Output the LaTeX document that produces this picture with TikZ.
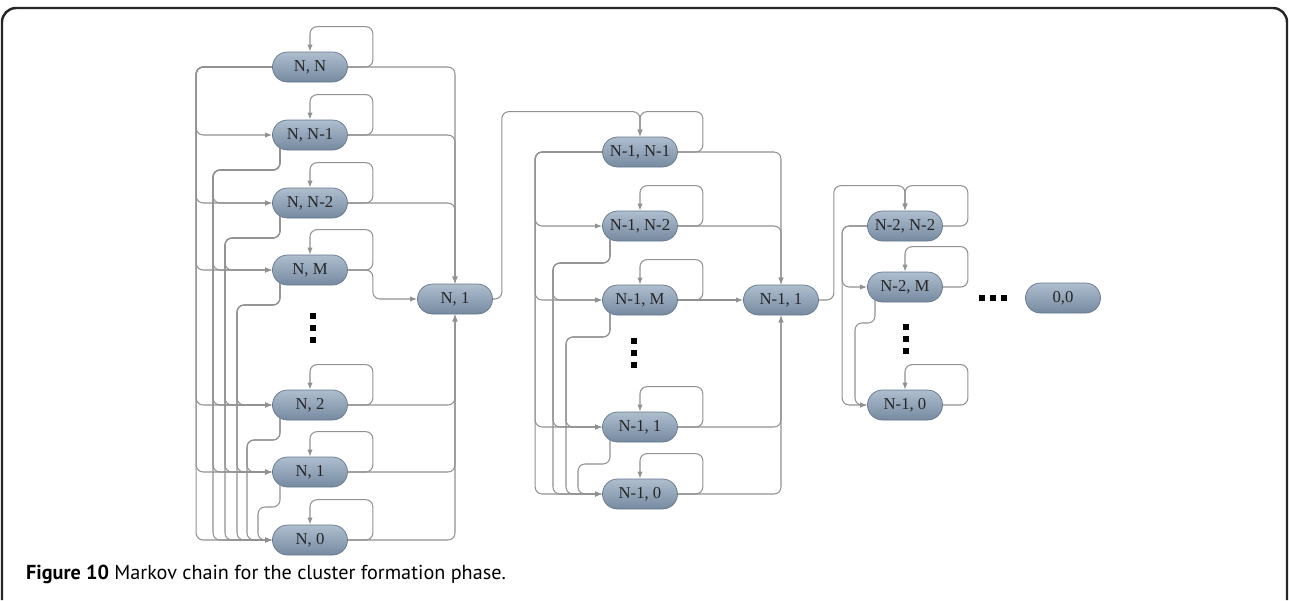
\documentclass[tikz,border=0pt]{standalone}
\usepackage{fontspec}
\setmainfont{Liberation Serif}
\newfontfamily\captionfont{PT Sans}
\usetikzlibrary{arrows.meta}
\definecolor{state-top}{RGB}{174,190,207}
\definecolor{state-bottom}{RGB}{118,138,160}
\definecolor{state-rim}{RGB}{100,118,138}
\definecolor{link-gray}{RGB}{145,145,145}

\begin{document}
\begin{tikzpicture}[x=0.02cm, y=-0.02cm]
	\tikzset{state/.style={rectangle, draw=state-rim, top color=state-top, bottom color=state-bottom, rounded corners=0.3cm, minimum width=1.5cm, minimum height=0.6cm, inner sep=1pt, font=\fontsize{9.5}{10}\selectfont, text=black!85}}
	\tikzset{arr/.style={-{Latex[length=4pt, width=3pt]}, draw=link-gray, line width=0.6pt, rounded corners=4pt}}
	\tikzset{dot/.style={fill=black}}
	
	\useasboundingbox (0,0) rectangle (1289,600);
	\draw[line width=1.4pt, black!85, rounded corners=8pt] (2,600) -- (2,8) -- (1287,8) -- (1287,600);
	
	\node[state] (n1) at (310,67) {N, N};
	\node[state] (n2) at (310,135) {N, N-1};
	\node[state] (n3) at (310,203) {N, N-2};
	\node[state] (n4) at (310,270) {N, M};
	\node[state] (n5) at (310,405) {N, 2};
	\node[state] (n6) at (310,472) {N, 1};
	\node[state] (n7) at (310,540) {N, 0};
	\node[state] (hubN) at (455,299) {N, 1};
	
	\node[state] (m1) at (640,152) {N-1, N-1};
	\node[state] (m2) at (640,226) {N-1, N-2};
	\node[state] (m3) at (640,300) {N-1, M};
	\node[state] (m4) at (640,427) {N-1, 1};
	\node[state] (m5) at (640,494) {N-1, 0};
	\node[state] (hubM) at (781,300) {N-1, 1};
	
	\node[state] (k1) at (905,226) {N-2, N-2};
	\node[state] (k2) at (905,287) {N-2, M};
	\node[state] (k3) at (905,405) {N-1, 0};
	\node[state] (zero) at (1063,298) {0,0};
	
	\foreach \s in {n1,n2,n3,n4,n5,n6,n7,m1,m2,m3,m4,m5,k1,k2,k3}
		\draw[arr] (\s.east) -- ++(25,0) |- ([shift={(0,-25)}]\s.north) -- (\s.north);
	
	\foreach \s in {n1,n2,n3}
		\draw[arr] (\s.east) -| (hubN.north);
	\draw[arr] (n4.east) -- ++(25,0) |- (hubN.west);
	\foreach \s in {n5,n6,n7}
		\draw[arr] (\s.east) -| (hubN.south);
	
	\foreach \s in {m1,m2}
		\draw[arr] (\s.east) -| (hubM.north);
	\draw[arr] (m3) -- (hubM);
	\foreach \s in {m4,m5}
		\draw[arr] (\s.east) -| (hubM.south);
	
	\draw[arr] (hubN.east) -- ++(9,0) |- ([shift={(0,-25)}]m1.north) -- (m1.north);
	\draw[arr] (hubM.east) -- ++(15,0) |- ([shift={(0,-25)}]k1.north) -- (k1.north);
	
	\foreach \t in {2,...,7}
		\draw[arr] (n1.west) -- ++(-76,0) |- (n\t.west);
	\foreach \s/\d [evaluate=\s as \u using int(\s+1)] in {2/67,3/55,4/43,5/33,6/22}
		\foreach \t in {\u,...,7}
			\draw[arr] ([shift={(-30,13)}]n\s.center) |- ++(-\d,22) |- (n\t.west);
	
	\foreach \t in {2,...,5}
		\draw[arr] (m1.west) -- ++(-67,0) |- (m\t.west);
	\foreach \s/\d [evaluate=\s as \u using int(\s+1)] in {2/57,3/44,4/32}
		\foreach \t in {\u,...,5}
			\draw[arr] ([shift={(-30,13)}]m\s.center) |- ++(-\d,24) |- (m\t.west);
	
	\foreach \t in {2,3}
		\draw[arr] (k1.west) -- ++(-25,0) |- (k\t.west);
	\draw[arr] ([shift={(-30,13)}]k2.center) |- ++(-20,23) |- (k3.west);
	
	\foreach \y in {316,328,340}
		\fill[dot] (313,\y) +(-3,-3) rectangle +(3,3);
	\foreach \y in {341,353,365}
		\fill[dot] (634,\y) +(-3,-3) rectangle +(3,3);
	\foreach \y in {327,339,351}
		\fill[dot] (906,\y) +(-3,-3) rectangle +(3,3);
	\foreach \x in {982,993,1004}
		\fill[dot] (\x,298) +(-3,-3) rectangle +(3,3);
	
	\node[anchor=base west, font=\captionfont\fontsize{11.5}{13}\selectfont] (caption) at (20,579) {\textbf{Figure 10} Markov chain for the cluster formation phase.};
\end{tikzpicture}
\end{document}
